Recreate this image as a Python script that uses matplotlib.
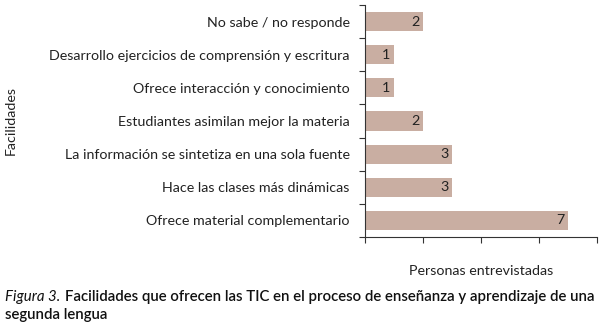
import matplotlib
matplotlib.use("Agg")
import matplotlib.pyplot as plt
import numpy as np

categories = [
    "Ofrece material complementario",
    "Hace las clases más dinámicas",
    "La información se sintetiza en una sola fuente",
    "Estudiantes asimilan mejor la materia",
    "Ofrece interacción y conocimiento",
    "Desarrollo ejercicios de comprensión y escritura",
    "No sabe / no responde",
]
values = [7, 3, 3, 2, 1, 1, 2]
x_ticks = [0, 2, 4, 6, 8]

bar_color = "#c9aea2"
font = "Lato"
fs = 10.3

fig = plt.figure(figsize=(6.06, 3.27), dpi=100)
ax = fig.add_axes([0.6023, 0.2752, 0.3827, 0.7095])

y = np.arange(len(categories))
ax.barh(y, values, height=0.58, color=bar_color)
for yi, v in zip(y, values):
    ax.text(v - 0.12, yi, str(v), ha="right", va="center", fontsize=fs,
            family=font, color="#222222")

ax.set_xlim(0, 8)
ax.set_ylim(-0.5, len(categories) - 0.5)
ax.set_xticks(x_ticks)
ax.set_xticklabels([])
ax.set_yticks(y)
ax.set_yticklabels(categories, fontsize=fs, family=font, color="#222222")
ax.tick_params(axis="y", length=0, pad=11)
ax.set_yticks(np.arange(-0.5, len(categories), 1), minor=True)
ax.tick_params(axis="y", which="minor", length=4, width=0.8, color="#333333")
ax.tick_params(axis="x", length=4, width=0.8, color="#333333")
for s in ["top", "right"]:
    ax.spines[s].set_visible(False)
for s in ["left", "bottom"]:
    ax.spines[s].set_linewidth(0.8)
    ax.spines[s].set_color("#333333")

ax.set_xlabel("Personas entrevistadas", fontsize=fs, family=font, color="#222222", labelpad=13)
fig.text(0.018, 0.63, "Facilidades", rotation=90, ha="center", va="center",
         fontsize=fs, family=font, color="#222222")

cfs = 10.8
t1 = fig.text(0.008, 0.092, "Figura 3.", fontsize=cfs, family=font, style="italic",
              color="#111111", va="center")
fig.canvas.draw()
r = fig.canvas.get_renderer()
bb = t1.get_window_extent(renderer=r)
x0 = bb.x1 / fig.bbox.width + 0.008
t2 = fig.text(x0, 0.092,
              "Facilidades que ofrecen las TIC en el proceso de enseñanza y aprendizaje de una",
              fontsize=cfs, family=font, weight="semibold", color="#111111", va="center")
fig.canvas.draw()
bb2 = t2.get_window_extent(renderer=r)
target = 0.985 * fig.bbox.width
if bb2.x1 > 0:
    scale = (target - bb2.x0) / (bb2.x1 - bb2.x0)
    t2.set_fontsize(cfs * min(max(scale, 0.85), 1.15))
fig.text(0.008, 0.037, "segunda lengua", fontsize=cfs, family=font,
         weight="semibold", color="#111111", va="center")

fig.savefig("out.png", dpi=100, facecolor="white")
